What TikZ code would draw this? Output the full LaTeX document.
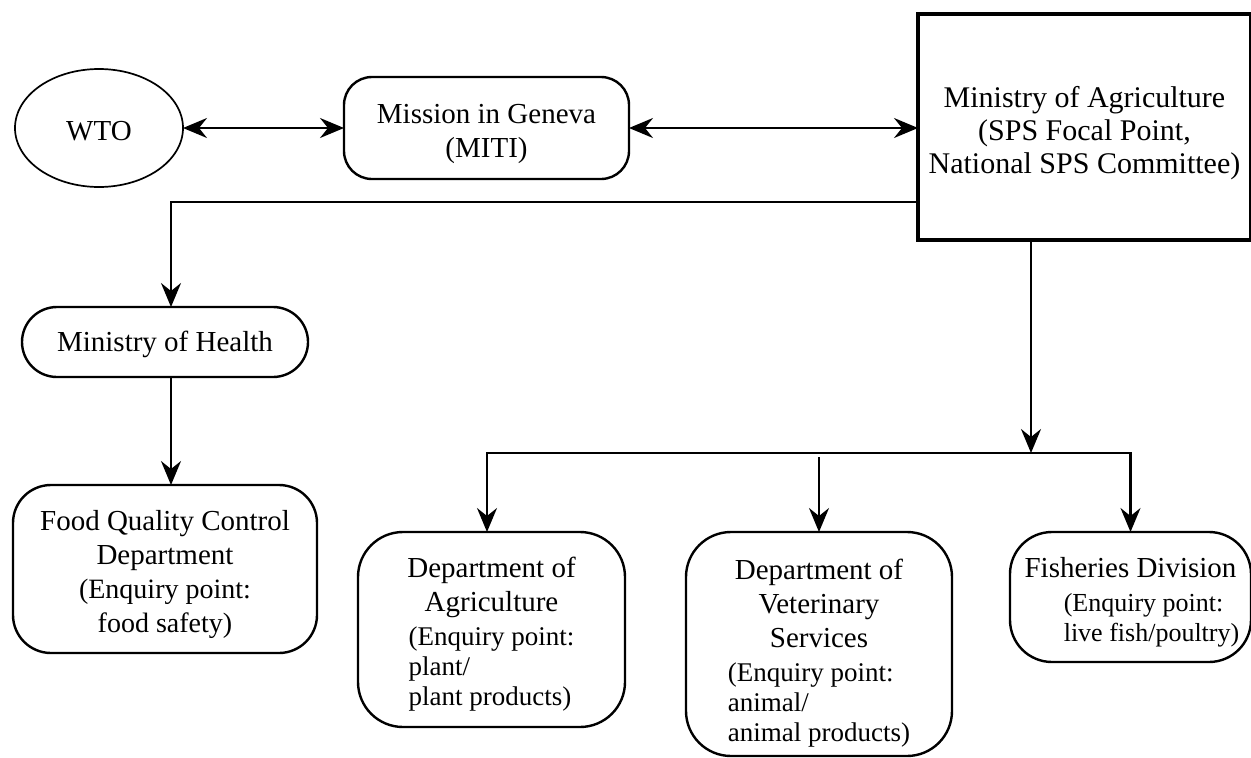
\documentclass[tikz,border=0pt]{standalone}
\usepackage{fontspec}
\setmainfont{Liberation Serif}
\usetikzlibrary{arrows.meta,shapes.geometric}

% left-aligned block of enquiry-point lines, set in a smaller size
\newcommand\enqblock[2]{{\fontsize{#1}{30}\selectfont\begin{tabular}[t]{@{}l@{}}#2\end{tabular}}}
% invisible strut that gives the first line of a label extra height
\newcommand\headroom[1]{\rule{0pt}{#1pt}}

\begin{document}
\begin{tikzpicture}[x=1pt,y=-1pt,
  every node/.style={inner sep=0pt, outer sep=0pt},
  lbl/.style={font=\fontsize{29}{34}\selectfont, align=center},
  rbox/.style={lbl, draw, line width=2.4pt, rounded corners=#1},
  rbox/.default=40pt,
  tip/.tip={Stealth[length=24pt,width=20pt,inset=8pt]},
  conn/.style={line width=2.2pt, -tip},
  twoway/.style={line width=2.2pt, tip-tip}]

\useasboundingbox (0,0) rectangle (1251,758);

% top row
\node[lbl, draw, ellipse, line width=1.7pt, minimum width=168pt, minimum height=118pt] (wto) at (99,128) {\headroom{25}WTO};
\node[rbox=28pt, minimum width=285pt, minimum height=102pt] (mission) at (486.5,128) {\headroom{31}Mission in Geneva\\(MITI)};
\node[lbl, draw, line width=4pt, minimum width=333pt, minimum height=226pt,
      font=\fontsize{30}{33}\selectfont] (minag) at (1084.5,127)
      {\headroom{33}Ministry of Agriculture\\(SPS Focal Point,\\National SPS Committee)};

% health branch
\node[rbox=35pt, minimum width=286pt, minimum height=70pt] (moh) at (165,342) {\headroom{25}Ministry of Health};
\node[rbox=38pt, minimum width=304pt, minimum height=168pt] (food) at (165,569)
  {\headroom{31}Food Quality Control\\Department\\{\fontsize{28}{34}\selectfont(Enquiry point:}\\{\fontsize{28}{34}\selectfont food safety)}};

% agriculture branch
\node[rbox=45pt, minimum width=267pt, minimum height=195pt] (dag) at (491.5,629.5)
  {\headroom{33}Department of\\Agriculture\\\enqblock{27}{(Enquiry point:\\plant/\\plant products)}};
\node[rbox=45pt, minimum width=266pt, minimum height=224pt] (vet) at (819,644)
  {\headroom{41}Department of\\Veterinary\\Services\\\enqblock{27}{(Enquiry point:\\animal/\\animal products)}};
\node[rbox=42pt, minimum width=241pt, minimum height=130pt] (fish) at (1130.5,597)
  {\headroom{34}Fisheries Division\\\hspace*{42pt}\enqblock{26}{(Enquiry point:\\live fish/poultry)}};

\coordinate (bus) at (1031,453);

% connectors
\draw[twoway] (wto.east) -- (mission.west);
\draw[twoway] (mission.east) -- (minag.west |- mission.east);
\draw[conn] ([yshift=-75pt]minag.west) -| ([xshift=6pt]moh.north);
\draw[conn] ([xshift=6pt]moh.south) -- ([xshift=6pt]food.north);
\draw[conn] ([xshift=-53.5pt]minag.south) -- (bus);
\draw[conn] (bus) -| ([xshift=-4.5pt]dag.north);
\draw[conn] (bus) -| (fish.north);
\draw[conn] ([yshift=-4pt]vet.north |- bus) -- (vet.north);
\end{tikzpicture}
\end{document}
